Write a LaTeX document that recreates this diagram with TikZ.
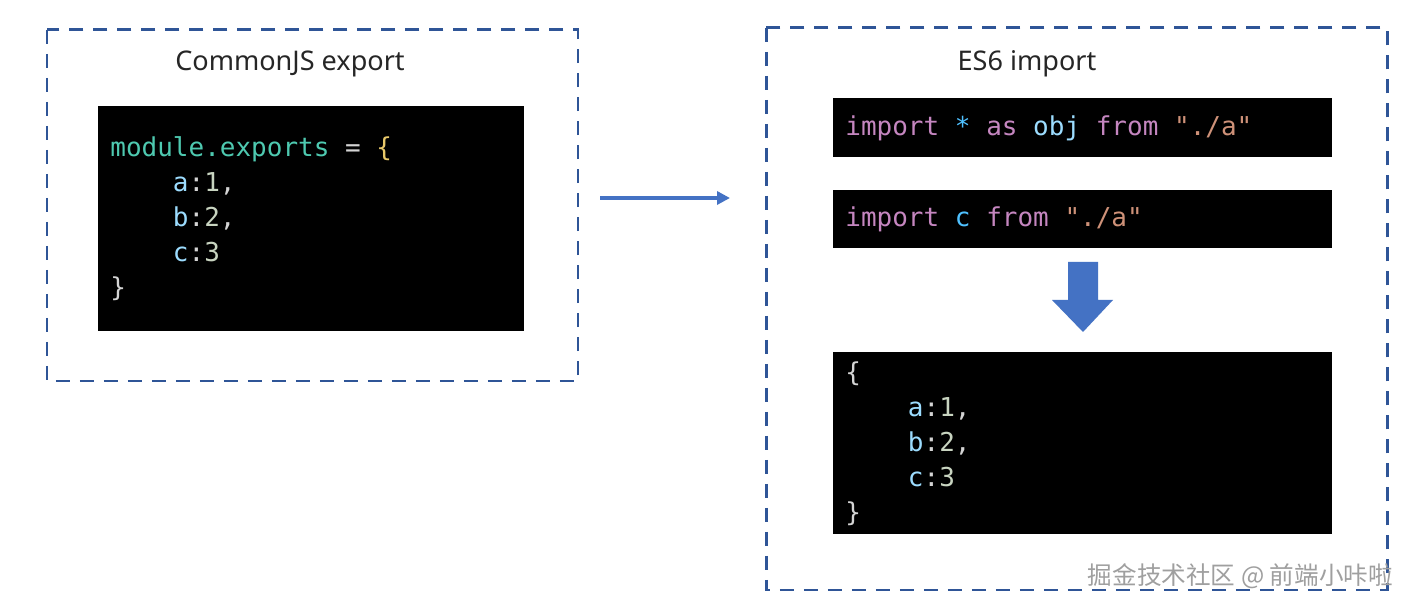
\documentclass[tikz,border=0pt]{standalone}
\usepackage{fontspec}
\setmainfont{Noto Sans}
\setmonofont{DejaVu Sans Mono}
\newfontfamily\cjkfont{Noto Sans CJK SC}
\usetikzlibrary{arrows.meta}

\definecolor{framecol}{HTML}{2F5597}
\definecolor{arrowcol}{HTML}{4472C4}
\definecolor{cteal}{HTML}{4EC9B0}
\definecolor{cvar}{HTML}{9CDCFE}
\definecolor{cnum}{HTML}{C8D4C0}
\definecolor{cplain}{HTML}{D4D4D4}
\definecolor{cbrace}{HTML}{E8C86A}
\definecolor{ckey}{HTML}{C586C0}
\definecolor{cconst}{HTML}{4FC1FF}
\definecolor{cstr}{HTML}{CE9178}

\tikzset{
	frame/.style={draw=framecol, line width=1.7pt, dash pattern=on 0.28cm off 0.2cm},
	code/.style={fill=black, anchor=north west, inner xsep=0.24cm, inner ysep=0pt,
		align=left, text=cplain, font=\ttfamily\fontsize{14.8}{19.9}\selectfont},
	title/.style={text=black!85, font=\fontsize{15.4}{19}\selectfont},
	link/.style={draw=arrowcol, line width=2.2pt, -{Triangle[length=0.26cm,width=0.26cm]}}
}
\newcommand{\ind}{\phantom{xxxx}}
\newcommand{\sk}{\phantom{x}}

\begin{document}
\begin{tikzpicture}[x=0.02cm,y=-0.02cm]
	\useasboundingbox (0,0) rectangle (1414,607);
	\fill[white] (0,0) rectangle (1414,607);

	% CommonJS side
	\draw[frame] (47,30) rectangle (578,381);
	\node[title] (titleL) at (290,64) {CommonJS export};
	\node[code, text width=8.04cm, minimum height=4.5cm] (codeL) at (98,106)
		{\textcolor{cteal}{module.exports}\sk=\sk\textcolor{cbrace}{\{}\\
		 \ind\textcolor{cvar}{a}:\textcolor{cnum}{1},\\
		 \ind\textcolor{cvar}{b}:\textcolor{cnum}{2},\\
		 \ind\textcolor{cvar}{c}:\textcolor{cnum}{3}\\
		 \}};

	% ES6 side
	\draw[frame] (766,28) rectangle (1387,590);
	\node[title] (titleR) at (1027,64) {ES6 import};
	\node[code, text width=9.5cm, minimum height=1.18cm] (impAll) at (833,98)
		{\textcolor{ckey}{import}\sk\textcolor{cconst}{*}\sk\textcolor{ckey}{as}\sk\textcolor{cvar}{obj}\sk\textcolor{ckey}{from}\sk\textcolor{cstr}{"./a"}};
	\node[code, text width=9.5cm, minimum height=1.16cm] (impC) at (833,190)
		{\textcolor{ckey}{import}\sk\textcolor{cconst}{c}\sk\textcolor{ckey}{from}\sk\textcolor{cstr}{"./a"}};
	\node[code, text width=9.5cm, minimum height=3.64cm] (result) at (833,352)
		{\{\\
		 \ind\textcolor{cvar}{a}:\textcolor{cnum}{1},\\
		 \ind\textcolor{cvar}{b}:\textcolor{cnum}{2},\\
		 \ind\textcolor{cvar}{c}:\textcolor{cnum}{3}\\
		 \}};

	% block arrow down
	\fill[arrowcol] (1068,262) -- (1098,262) -- (1098,300) -- (1113,300)
		-- (1083,332) -- (1052,300) -- (1068,300) -- cycle;

	% arrow between the two sides
	\coordinate (arrS) at (600,198);
	\coordinate (arrE) at (730,198);
	\draw[link] (arrS) -- (arrE);

	\node[anchor=east, text=gray!75, font=\cjkfont\fontsize{14}{16}\selectfont] (mark) at (1399,576)
		{掘金技术社区 @ 前端小咔啦};
\end{tikzpicture}
\end{document}
